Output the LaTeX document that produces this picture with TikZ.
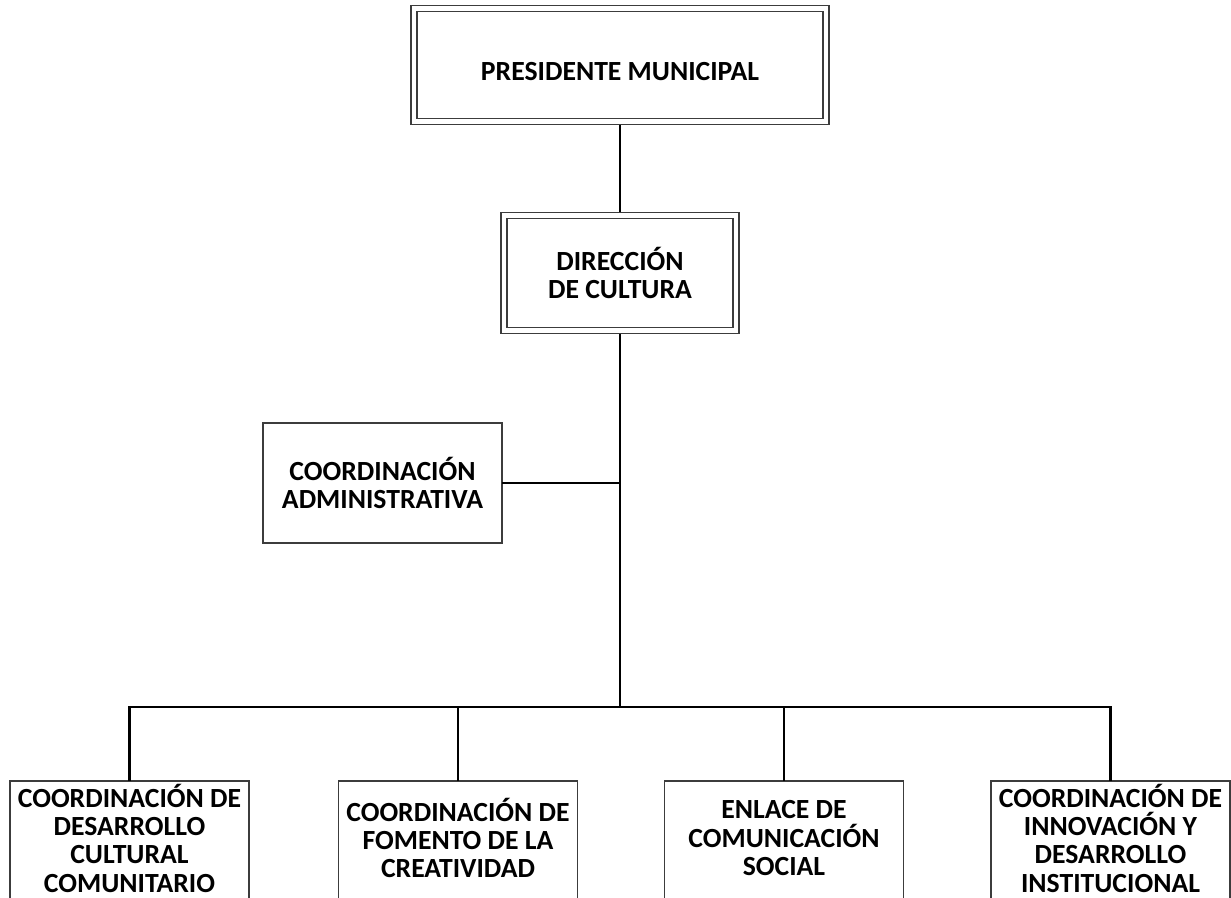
\documentclass[tikz,border=0pt]{standalone}
\usepackage{fontspec}
\setmainfont{Carlito}
\usetikzlibrary{positioning}
\definecolor{boxgray}{RGB}{60,60,60}
\tikzset{
	unit/.style = {draw = boxgray, line width = 1.6pt, fill = white, inner sep = 0pt, outer sep = 0pt,
		align = center, minimum width = 239pt, minimum height = 120pt,
		font = \fontsize{27.7}{28.3}\selectfont\bfseries},
	baseunit/.style = {unit, text depth = 6pt},
	headunit/.style = {unit, double, double distance = 4.4pt, outer sep = 3.8pt},
	link/.style = {line width = 2.2pt, black, line join = miter}
}
\begin{document}
\begin{tikzpicture}[x = 1pt, y = -1pt]
	\useasboundingbox (0,0) rectangle (1231,897);
	\clip (0,0) rectangle (1231,897);
	\node [headunit, minimum width = 412pt, minimum height = 113pt] (pres) at (620,65) {\raisebox{-7pt}[\height][\depth]{PRESIDENTE MUNICIPAL}};
	\node [headunit, minimum width = 232pt, minimum height = 115pt] (dir) at (620,273) {DIRECCIÓN\\DE CULTURA};
	\node [unit] (admin) at (382.5,483) {COORDINACIÓN\\ADMINISTRATIVA};
	\coordinate (bus) at (620,707);
	% bottom row
	\node [baseunit] (desarrollo) at (129.5,841) {COORDINACIÓN DE\\DESARROLLO\\CULTURAL\\COMUNITARIO};
	\node [baseunit] (fomento) at (458,841) {COORDINACIÓN DE\\FOMENTO DE LA\\CREATIVIDAD};
	\node [baseunit] (enlace) at (784,841) {ENLACE DE\\COMUNICACIÓN\\SOCIAL};
	\node [baseunit] (innovacion) at (1110.5,841) {COORDINACIÓN DE\\INNOVACIÓN Y\\DESARROLLO\\INSTITUCIONAL};
	% connectors
	\draw [link] (pres) -- (dir);
	\draw [link] (dir) -- (bus);
	\draw [link] (admin) -- (admin -| bus);
	\draw [link] (desarrollo) -- (desarrollo.north |- bus) -- (innovacion.north |- bus) -- (innovacion);
	\foreach \u in {fomento, enlace}
		\draw [link] (\u) -- (\u.north |- bus);
\end{tikzpicture}
\end{document}
